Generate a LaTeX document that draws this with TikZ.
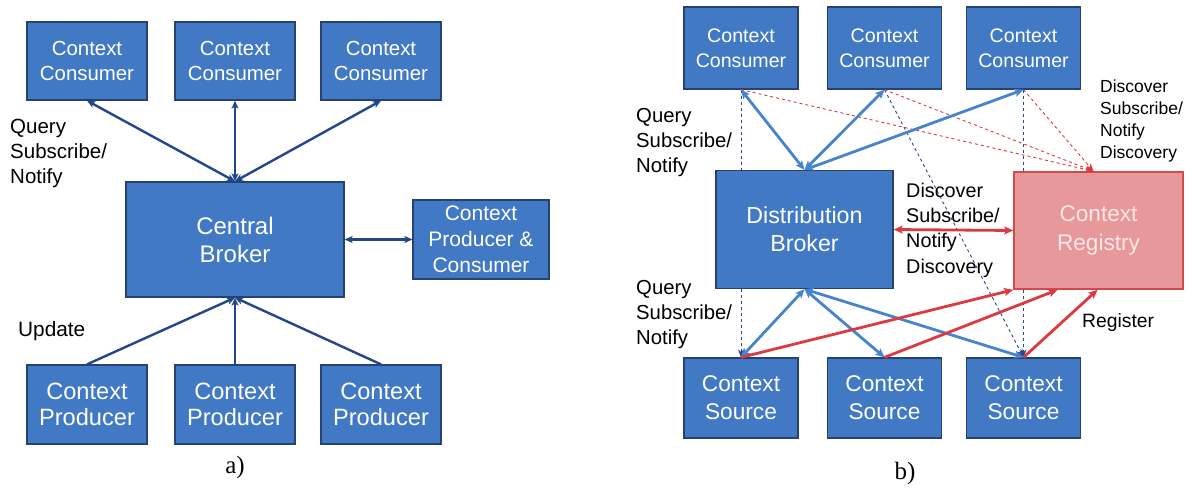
\documentclass[tikz,border=0pt]{standalone}
\usepackage{fontspec}
\setmainfont{Liberation Sans}
\newfontfamily\capfont{Liberation Serif}
\usetikzlibrary{arrows.meta,calc}

\definecolor{boxfill}{RGB}{66,121,197}
\definecolor{boxline}{RGB}{38,66,115}
\definecolor{navy}{RGB}{36,70,138}
\definecolor{lightblue}{RGB}{70,132,206}
\definecolor{dashblue}{RGB}{40,72,135}
\definecolor{regfill}{RGB}{231,152,154}
\definecolor{regline}{RGB}{214,72,74}
\definecolor{regtext}{RGB}{252,232,232}
\definecolor{redline}{RGB}{220,58,64}

\newcommand{\fs}[2]{\fontsize{#1}{#2}\selectfont}

\tikzset{
  cbox/.style={draw=boxline, line width=1.3pt, fill=boxfill, text=white,
    align=center, inner sep=0pt},
  regbox/.style={draw=regline, line width=1.6pt, fill=regfill, text=regtext,
    align=center, inner sep=0pt},
  lbl/.style={anchor=west, align=left, inner sep=0pt, text=black},
  navyarrow/.style={draw=navy, line width=2.4pt,
    -{Stealth[length=8pt,width=7pt,inset=2pt]}},
  navytwo/.style={draw=navy, line width=2.4pt,
    {Stealth[length=8pt,width=7pt,inset=2pt]}-{Stealth[length=8pt,width=7pt,inset=2pt]}},
  bluetwo/.style={draw=lightblue, line width=2.8pt,
    {Stealth[length=9pt,width=8pt,inset=2pt]}-{Stealth[length=9pt,width=8pt,inset=2pt]}},
  bluedash/.style={draw=dashblue, line width=0.9pt, dashed},
  bluedashtip/.style={bluedash, -{Stealth[length=8pt,width=6pt]}},
  reddash/.style={draw=redline, line width=0.9pt, dashed,
    -{Stealth[length=8pt,width=6pt]}},
  redarrow/.style={draw=redline, line width=2.8pt,
    -{Stealth[length=9pt,width=8pt,inset=2pt]}},
  redtwo/.style={draw=redline, line width=2.8pt,
    {Stealth[length=9pt,width=8pt,inset=2pt]}-{Stealth[length=9pt,width=8pt,inset=2pt]}},
  caption/.style={font=\capfont\fs{25}{28}, inner sep=0pt},
}

\begin{document}
\begin{tikzpicture}[x=1pt,y=-1pt]
\useasboundingbox[fill=white] (0,0) rectangle (1189,488);

% ---------- a) central broker ----------
\foreach \i/\x in {1/87,2/235,3/381}{
  \node[cbox, minimum width=120pt, minimum height=78pt, font=\fs{20.4}{25}]
    (cc\i) at (\x,61) {Context\\Consumer};
  \node[cbox, minimum width=120pt, minimum height=79pt, font=\fs{23.6}{26}]
    (cp\i) at (\x,404.5) {Context\\Producer};
}
\node[cbox, minimum width=218pt, minimum height=115pt, font=\fs{24}{28}]
  (cb) at (235,239.5) {Central\\Broker};
\node[cbox, minimum width=136pt, minimum height=79pt, font=\fs{21}{26}]
  (pc) at (481,239.5) {Context\\Producer \&\\Consumer};

\foreach \i in {1,2,3}{
  \draw[navytwo] (cb.north) -- (cc\i.south);
  \draw[navyarrow] (cp\i.north) -- (cb.south);
}
\draw[navytwo] (cb.east) -- (pc.west);

\node[lbl, font=\fs{20.5}{25}] (qa) at (10,153) {Query\\Subscribe/\\Notify};
\node[lbl, font=\fs{20.8}{25}] (ua) at (18,331) {Update};
\node[caption] (capa) at (235,467) {a)};

% ---------- b) distributed broker with registry ----------
\foreach \i/\x in {1/741,2/884.5,3/1023.5}{
  \node[cbox, minimum width=114pt, minimum height=82pt, font=\fs{19.6}{25}]
    (k\i) at (\x,48) {Context\\Consumer};
  \node[cbox, minimum width=114pt, minimum height=80pt, font=\fs{22.7}{28}]
    (s\i) at (\x,398) {Context\\Source};
}
\node[cbox, minimum width=177pt, minimum height=118pt, font=\fs{23.2}{28}]
  (db) at (804.5,229.5) {Distribution\\Broker};
\node[regbox, minimum width=169pt, minimum height=117pt, font=\fs{22.6}{29}]
  (reg) at (1098.5,230.5) {Context\\Registry};

% dashed links
\draw[bluedash] (k1.south) -- (k1.south |- db.north);
\draw[bluedashtip] (db.south -| s1.north) -- (s1.north);
\draw[bluedash] (k3.south) -- (k3.south |- reg.north);
\draw[bluedashtip] (reg.south -| s3.north) -- (s3.north);
\draw[bluedashtip] (k2.south) -- (s3.north);
\coordinate (regtop) at ($(reg.north)+(-5,0)$);
\foreach \i in {1,2,3}{
  \draw[reddash] (k\i.south) -- (regtop);
}

% broker links
\foreach \i in {1,2,3}{
  \draw[bluetwo] (db.north) -- (k\i.south);
  \draw[bluetwo] (db.south) -- (s\i.north);
}
\draw[redtwo] (db.east) -- (reg.west);

% registration
\coordinate (r1) at (reg.south west);
\coordinate (r2) at ($(reg.south west)!0.26!(reg.south east)$);
\coordinate (r3) at ($(reg.south)+(-1,0)$);
\draw[redarrow] (s1.north) -- (r1);
\draw[redarrow] (s2.north) -- (r2);
\draw[redarrow] (s3.north) -- (r3);

\node[lbl, font=\fs{20.3}{25}] (qb1) at (636,143) {Query\\Subscribe/\\Notify};
\node[lbl, font=\fs{20.3}{25}] (qb2) at (636,315) {Query\\Subscribe/\\Notify};
\node[lbl, font=\fs{19.8}{25.3}] (dm) at (906,230) {Discover\\Subscribe/\\Notify\\Discovery};
\node[lbl, font=\fs{17.5}{22}] (dt) at (1100,121) {Discover\\Subscribe/\\Notify\\Discovery};
\node[lbl, font=\fs{19.3}{24}] (rg) at (1082,323) {Register};
\node[caption] (capb) at (905,473) {b)};
\end{tikzpicture}
\end{document}
